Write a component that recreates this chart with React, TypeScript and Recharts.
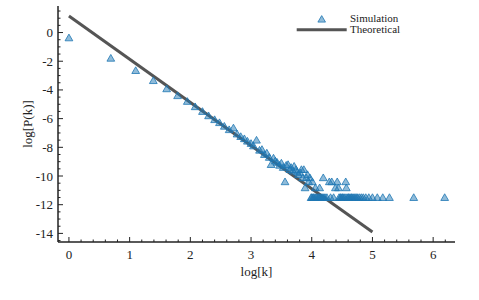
import React from 'react';
import { ComposedChart, Scatter, Line, XAxis, YAxis, ZAxis, Legend } from 'recharts';

// simulated degree distribution (natural log)
const simLogK = [
  0, 0.69, 1.1, 1.39, 1.61, 1.79, 1.95, 2.08, 2.2, 2.3,
  2.4, 2.48, 2.56, 2.64, 2.71, 2.77, 2.83, 2.89, 2.94, 3.0,
  3.04, 3.09, 3.14, 3.18, 3.22, 3.26, 3.3, 3.33, 3.37, 3.4,
  3.43, 3.47, 3.5, 3.53, 3.56, 3.58, 3.61, 3.64, 3.66, 3.69,
  3.71, 3.74, 3.76, 3.78, 3.81, 3.83, 3.85, 3.87, 3.89, 3.91,
  3.93, 3.95, 3.97, 3.99, 4.0, 4.01, 4.02, 4.03, 4.05, 4.06,
  4.07, 4.09, 4.11, 4.12, 4.13, 4.14, 4.16, 4.18, 4.19, 4.2,
  4.22, 4.25, 4.29, 4.31, 4.33, 4.36, 4.39, 4.42, 4.44, 4.45,
  4.47, 4.48, 4.5, 4.51, 4.53, 4.55, 4.56, 4.57, 4.58, 4.6,
  4.61, 4.63, 4.65, 4.66, 4.68, 4.7, 4.72, 4.74, 4.76, 4.79,
  4.82, 4.85, 4.89, 4.94, 5.0, 5.08, 5.17, 5.28, 5.68, 6.19,
];
const simLogP = [
  -0.42, -1.84, -2.7, -3.4, -3.97, -4.45, -4.85, -5.22, -5.55, -5.85,
  -6.12, -6.33, -6.58, -6.82, -6.7, -7.12, -7.3, -7.45, -7.62, -7.78,
  -7.95, -7.55, -8.25, -8.2, -8.55, -8.45, -8.75, -9.25, -8.8, -9.0,
  -9.1, -9.3, -9.15, -9.45, -10.45, -9.3, -9.25, -9.6, -9.45, -9.7,
  -9.37, -9.6, -9.77, -9.95, -9.83, -9.6, -10.17, -9.6, -10.87, -10.17,
  -9.95, -10.45, -10.17, -11.55, -11.55, -10.45, -11.55, -11.55, -11.55, -10.87,
  -11.55, -11.55, -11.55, -11.55, -10.87, -11.55, -11.55, -11.55, -10.17, -11.55,
  -11.55, -11.55, -10.45, -11.55, -10.45, -11.55, -10.87, -10.45, -10.87, -11.55,
  -11.55, -11.55, -11.55, -11.55, -11.55, -11.55, -10.45, -10.87, -11.55, -11.55,
  -11.55, -11.55, -11.55, -11.55, -11.55, -11.55, -11.55, -11.55, -11.55, -11.55,
  -11.55, -11.55, -11.55, -11.55, -11.55, -11.55, -11.55, -11.55, -11.55, -11.55,
];

// theoretical power law fit
const theoryLogK = [0, 5];
const theoryLogP = [1.15, -13.9];

const xMajor = [0, 1, 2, 3, 4, 5, 6];
const yMajor = [0, -2, -4, -6, -8, -10, -12, -14];

const simData = simLogK.map((k, i) => ({ x: k, y: simLogP[i] }));
const theoryData = theoryLogK.map((k, i) => ({ x: k, y: theoryLogP[i] }));

const xTicks = Array.from({ length: 32 }, (_, i) => Math.round(i * 2) / 10);
const yTicks = Array.from({ length: 33 }, (_, i) => -14.5 + i * 0.5);

const FONT = '"Liberation Serif", serif';
const AXIS = '#222';

const XTick = (props: any) => {
  const { x, y, payload } = props;
  const major = xMajor.includes(payload.value);
  return (
    <g>
      <line x1={x} x2={x} y1={y} y2={y - (major ? 5 : 2.5)} stroke={AXIS} strokeWidth={1} />
      {major && (
        <text x={x} y={y + 12} dy="0.35em" textAnchor="middle" fontSize={13} fontFamily={FONT} fill="#222">
          {payload.value}
        </text>
      )}
    </g>
  );
};

const YTick = (props: any) => {
  const { x, y, payload } = props;
  const major = yMajor.includes(payload.value);
  return (
    <g>
      <line x1={x} x2={x + (major ? 5 : 2.5)} y1={y} y2={y} stroke={AXIS} strokeWidth={1} />
      {major && (
        <text x={x - 5} y={y} dy="0.35em" textAnchor="end" fontSize={13} fontFamily={FONT} fill="#222">
          {payload.value}
        </text>
      )}
    </g>
  );
};

const LegendBox = () => (
  <div style={{ fontFamily: FONT, fontSize: 11, color: '#222' }}>
    <div style={{ display: 'flex', alignItems: 'center', height: 11.5 }}>
      <svg width={60} height={11.5}>
        <path d="M31.7,2.6 L35.5,9.1 L27.9,9.1 Z" fill="#1f77b4" fillOpacity={0.5} stroke="#1f77b4" strokeWidth={0.8} />
      </svg>
      <span style={{ lineHeight: '11.5px' }}>Simulation</span>
    </div>
    <div style={{ display: 'flex', alignItems: 'center', height: 11.5 }}>
      <svg width={60} height={11.5}>
        <line x1={6.7} x2={56.7} y1={5.75} y2={5.75} stroke="#555" strokeWidth={3} />
      </svg>
      <span style={{ lineHeight: '11.5px' }}>Theoretical</span>
    </div>
  </div>
);

export default function App() {
  return (
    <div style={{ position: 'absolute', left: 0, top: 0, background: '#fff' }}>
      <ComposedChart width={479} height={300} margin={{ top: 6, right: 24, bottom: 0, left: 0 }}>
        <XAxis
          type="number"
          dataKey="x"
          domain={[-0.18, 6.36]}
          ticks={xTicks}
          interval={0}
          tick={<XTick />}
          tickLine={false}
          tickSize={0}
          tickMargin={0}
          height={58}
          axisLine={{ stroke: AXIS, strokeWidth: 1.5 }}
          allowDataOverflow
          label={{ value: 'log[k]', position: 'center', dy: 0, style: { fontFamily: FONT, fontSize: 13, fill: '#222' } }}
        />
        <XAxis xAxisId="top" orientation="top" type="number" domain={[-0.18, 6.36]} height={0} tick={false} tickLine={false} axisLine={{ stroke: AXIS, strokeWidth: 1.5 }} allowDataOverflow />
        <YAxis
          type="number"
          dataKey="y"
          domain={[-14.6, 1.85]}
          ticks={yTicks}
          interval={0}
          tick={<YTick />}
          tickLine={false}
          tickSize={0}
          tickMargin={0}
          width={58}
          axisLine={{ stroke: AXIS, strokeWidth: 1.5 }}
          allowDataOverflow
          label={{ value: 'log[P(k)]', angle: -90, position: 'center', dx: -2, style: { fontFamily: FONT, fontSize: 13, fill: '#222', textAnchor: 'middle' } }}
        />
        <YAxis yAxisId="right" orientation="right" type="number" domain={[-14.6, 1.85]} width={0} tick={false} tickLine={false} axisLine={{ stroke: AXIS, strokeWidth: 1.5 }} allowDataOverflow />
        <ZAxis range={[26, 26]} />
        <Scatter
          name="Simulation"
          data={simData}
          shape="triangle"
          fill="#1f77b4"
          fillOpacity={0.5}
          stroke="#1f77b4"
          strokeWidth={0.8}
          isAnimationActive={false}
        />
        <Line
          name="Theoretical"
          data={theoryData}
          dataKey="y"
          type="linear"
          stroke="#555"
          strokeWidth={3}
          dot={false}
          activeDot={false}
          isAnimationActive={false}
        />
        <Legend
          layout="vertical"
          align="center"
          verticalAlign="middle"
          content={() => <LegendBox />}
          wrapperStyle={{ position: 'absolute', left: 290, top: 12.5, width: 160 }}
        />
      </ComposedChart>
    </div>
  );
}
